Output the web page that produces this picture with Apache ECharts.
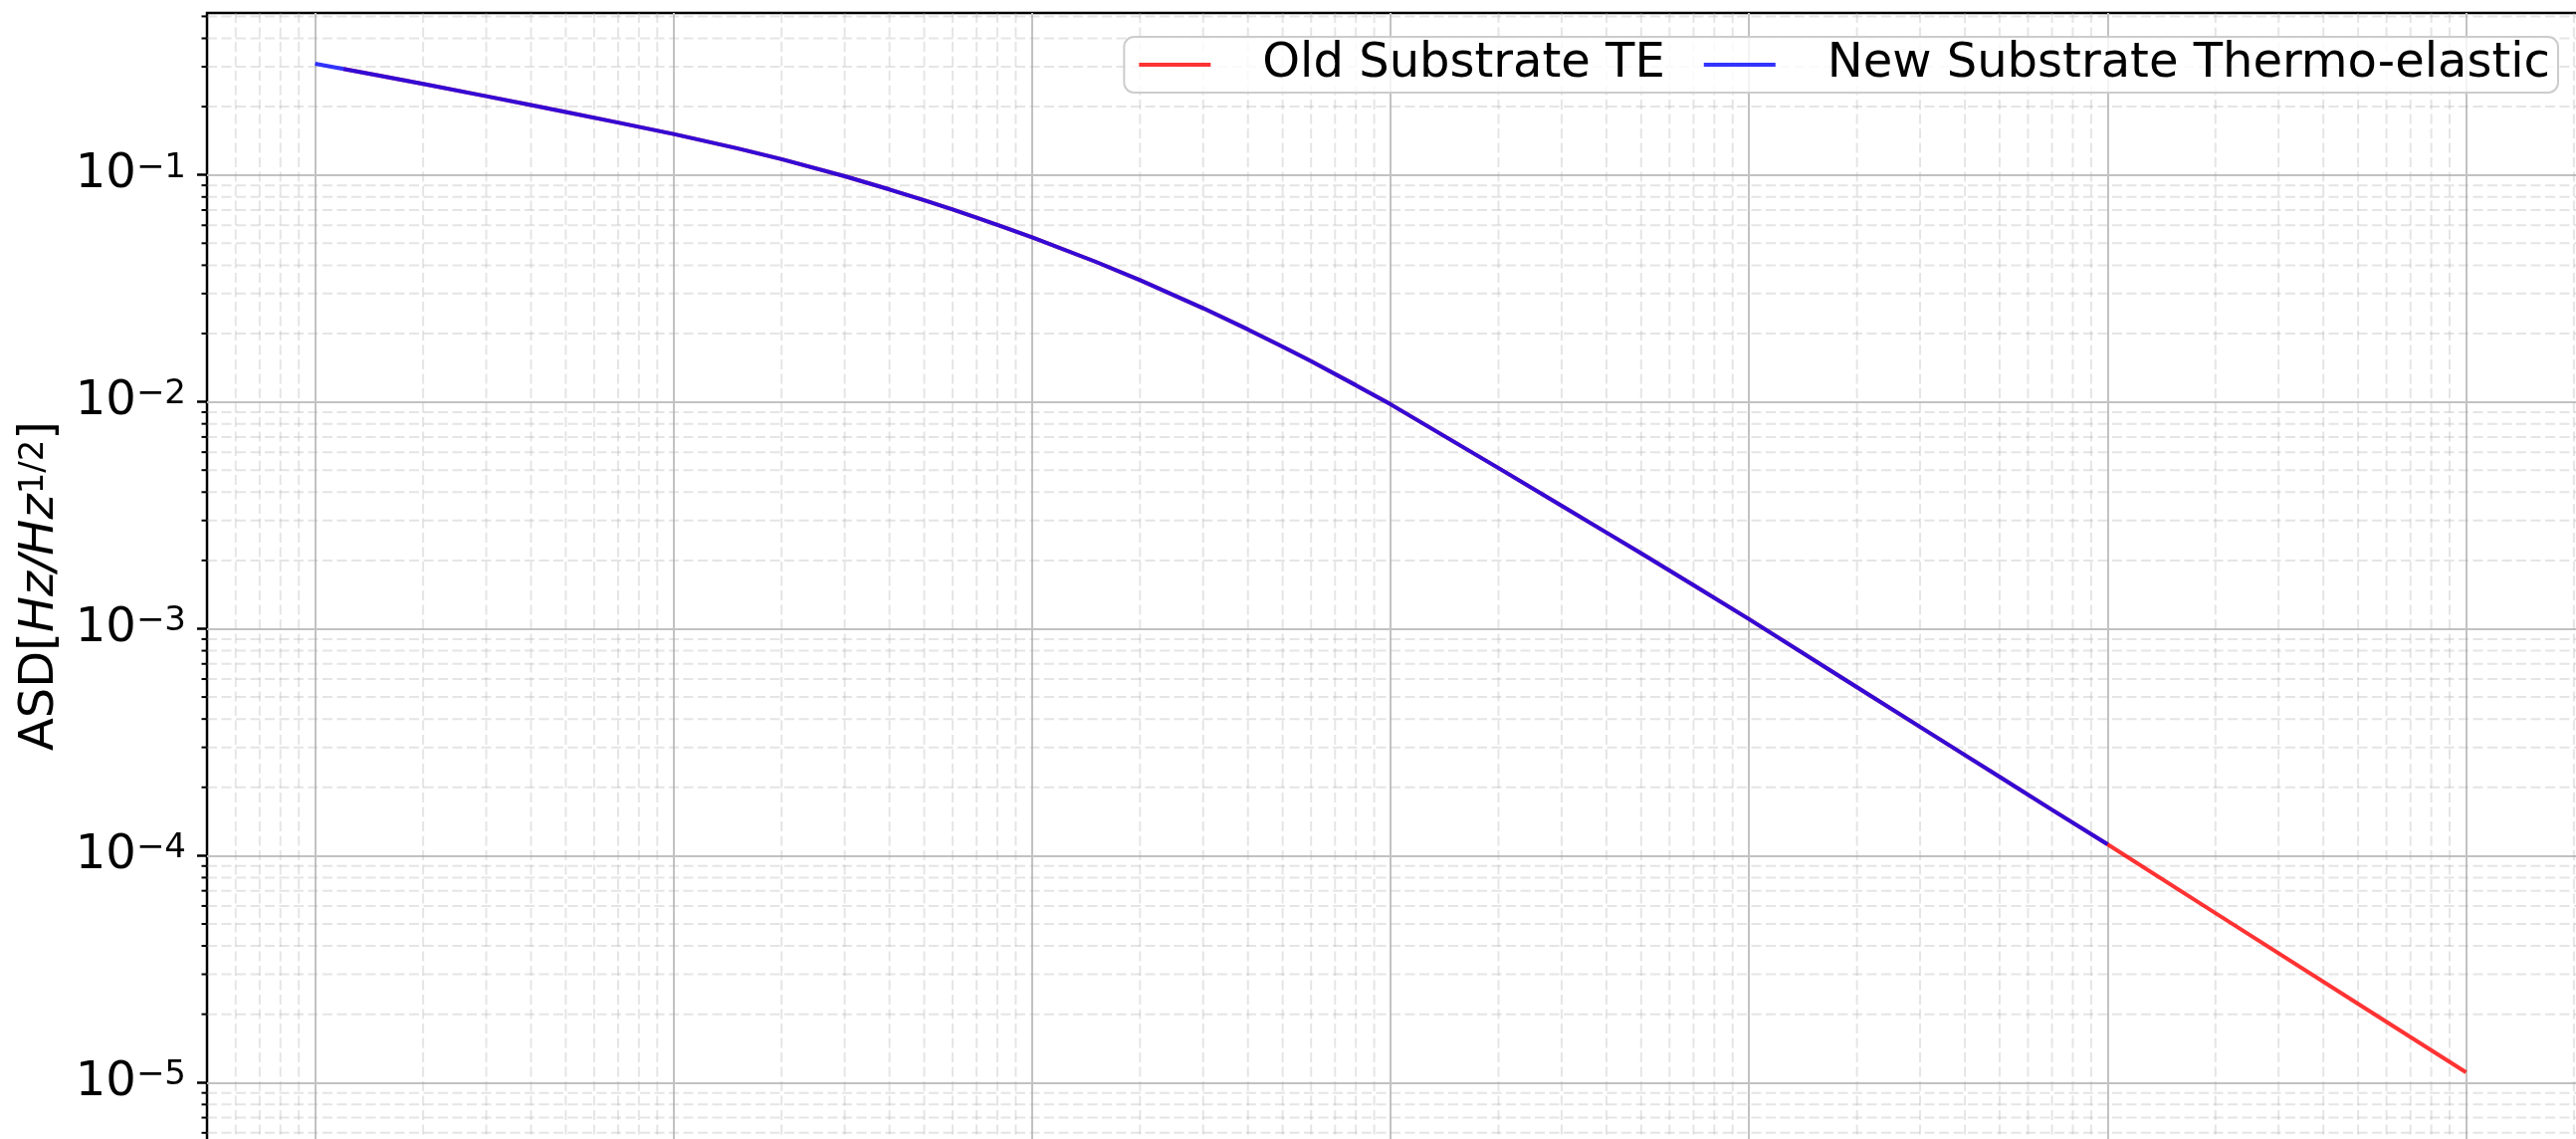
<!DOCTYPE html>
<html>
<head>
<meta charset="utf-8">
<title>Thermo-elastic ASD</title>
<script src="https://cdn.jsdelivr.net/npm/echarts@6.0.0/dist/echarts.min.js"></script>
<style>
  html, body { margin: 0; padding: 0; background: #fff; }
  #chart { width: 2588px; height: 1144px; }
</style>
</head>
<body>
<div id="chart"></div>
<script>
// values (log-log), frequency in Hz
const freqNew = [1, 1.5, 2, 3, 4, 5, 7, 10, 15, 20, 30, 40, 50, 60, 70, 80, 100, 150, 200, 300, 400, 500, 600, 800,
    1000, 2000, 3000, 4000, 5000, 7000, 10000, 20000, 30000, 40000, 50000, 70000, 100000];
const asdNew = [0.3090, 0.2745, 0.2518, 0.2223, 0.2032, 0.1894, 0.1701, 0.1514, 0.1312, 0.1173,
    0.09867, 0.08630, 0.07730, 0.07041, 0.06483, 0.06028, 0.05309, 0.04150, 0.03437, 0.02586,
    0.02084, 0.01749, 0.01510, 0.01184, 0.00975, 0.005105, 0.003483, 0.002655, 0.002148, 0.001556,
    0.001102, 5.521e-4, 3.690e-4, 2.773e-4, 2.223e-4, 1.592e-4, 1.122e-4];

const freqOld = [1.2, 1.5, 2, 3, 4, 5, 7, 10, 15, 20, 30, 40, 50, 60, 70, 80, 100, 150, 200, 300, 400, 500, 600, 800,
    1000, 2000, 3000, 4000, 5000, 7000, 10000, 20000, 30000, 40000, 50000, 70000, 100000, 200000, 500000, 1000000];
const asdOld = [0.2930, 0.2745, 0.2518, 0.2223, 0.2032, 0.1894, 0.1701, 0.1514, 0.1312, 0.1173,
    0.09867, 0.08630, 0.07730, 0.07041, 0.06483, 0.06028, 0.05309, 0.04150, 0.03437, 0.02586,
    0.02084, 0.01749, 0.01510, 0.01184, 0.00975, 0.005105, 0.003483, 0.002655, 0.002148, 0.001556,
    0.001102, 5.521e-4, 3.690e-4, 2.773e-4, 2.223e-4, 1.592e-4, 1.122e-4, 5.58e-5, 2.223e-5, 1.109e-5];

const seriesNames = ['Old Substrate TE', 'New Substrate Thermo-elastic'];

// axis limits (the bottom of the figure is cut off)
const xMin = 0.4992, xMax = 2.053e6;
const yMin = 4.605e-6, yMax = 0.5176;

// minor grid: 2..9 times each decade
const minorSteps = [2, 3, 4, 5, 6, 7, 8, 9];
const xDecades = [-1, 0, 1, 2, 3, 4, 5, 6];
const yDecades = [-6, -5, -4, -3, -2, -1];

const font = 'DejaVu Sans';
const red = 'rgba(255,0,0,0.8)';
const blue = 'rgba(0,0,255,0.8)';
const majorGrid = '#c2c2c2';
const minorGrid = 'rgba(170,170,170,0.3)';

function minorValues(decades, lo, hi) {
    const out = [];
    decades.forEach(k => {
        minorSteps.forEach(m => {
            const v = m * Math.pow(10, k);
            if (v > lo * 1.01 && v < hi) out.push(v);
        });
    });
    return out;
}
const xMinor = minorValues(xDecades, xMin, xMax);
const yMinor = minorValues(yDecades, yMin, yMax);

function isDecade(v) {
    const e = Math.log10(v);
    return Math.abs(e - Math.round(e)) < 1e-6;
}

const chart = echarts.init(document.getElementById('chart'), null, { renderer: 'canvas' });

const option = {
    animation: false,
    backgroundColor: '#fff',
    grid: {
        left: 208, top: 13, right: -2, bottom: -20,
        show: true, borderColor: '#000', borderWidth: 2.5,
        containLabel: false, outerBoundsMode: 'none'
    },
    legend: {
        data: seriesNames,
        right: 18, top: 37,
        icon: 'rect', itemWidth: 72, itemHeight: 4, itemGap: 39,
        padding: [4, 8, 4, 15],
        backgroundColor: 'rgba(255,255,255,0.8)',
        borderColor: '#cccccc', borderWidth: 2, borderRadius: 10,
        selectedMode: false,
        textStyle: { fontFamily: font, fontSize: 48, color: '#000', lineHeight: 48, padding: [0, 0, 0, 47] }
    },
    xAxis: {
        type: 'log', logBase: 10, min: xMin, max: xMax,
        axisLine: { show: false },
        axisTick: { show: false },
        axisLabel: { show: false },
        splitLine: { show: true, showMinLine: false, showMaxLine: false, lineStyle: { color: majorGrid, width: 2 } }
    },
    yAxis: {
        type: 'log', logBase: 10, min: yMin, max: yMax,
        name: '{n|ASD[}{i|Hz/Hz}{s|1/2}{n|]}',
        nameLocation: 'middle', nameRotate: 90, nameGap: 118,
        nameTextStyle: {
            color: '#000',
            rich: {
                n: { fontFamily: font, fontSize: 48, lineHeight: 48, color: '#000' },
                i: { fontFamily: font, fontSize: 48, lineHeight: 48, fontStyle: 'italic', color: '#000' },
                s: { fontFamily: font, fontSize: 34, lineHeight: 22, verticalAlign: 'top', color: '#000' }
            }
        },
        axisLine: { show: false },
        axisTick: { show: true, inside: false, length: 10, lineStyle: { color: '#000', width: 2.5 } },
        axisLabel: {
            margin: 21,
            showMinLabel: false, showMaxLabel: false,
            formatter: v => isDecade(v) ? '{b|10}{s|\u2212' + (-Math.round(Math.log10(v))) + '}' : '',
            rich: {
                b: { fontFamily: font, fontSize: 48, lineHeight: 48, color: '#000' },
                s: { fontFamily: font, fontSize: 34, lineHeight: 22, verticalAlign: 'top', color: '#000' }
            }
        },
        splitLine: { show: true, showMinLine: false, showMaxLine: false, lineStyle: { color: majorGrid, width: 2 } }
    },
    series: [
        {
            // minor horizontal grid + minor ticks on the left spine
            type: 'custom', silent: true, clip: false, z: 1,
            data: yMinor.map(v => [1, v]),
            encode: { x: 0, y: 1 },
            renderItem: (params, api) => {
                const cs = params.coordSys;
                const y = api.coord([1, api.value(1)])[1];
                return {
                    type: 'group',
                    children: [
                        { type: 'line', shape: { x1: cs.x, y1: y, x2: cs.x + cs.width, y2: y },
                          style: { stroke: minorGrid, lineWidth: 2, lineDash: [10, 4.5] } },
                        { type: 'line', shape: { x1: cs.x - 5.5, y1: y, x2: cs.x, y2: y },
                          style: { stroke: '#000', lineWidth: 2 } }
                    ]
                };
            }
        },
        {
            // minor vertical grid
            type: 'custom', silent: true, clip: false, z: 1,
            data: xMinor.map(v => [v, 0.01]),
            encode: { x: 0, y: 1 },
            renderItem: (params, api) => {
                const cs = params.coordSys;
                const x = api.coord([api.value(0), 0.01])[0];
                return {
                    type: 'line', shape: { x1: x, y1: cs.y, x2: x, y2: cs.y + cs.height },
                    style: { stroke: minorGrid, lineWidth: 2, lineDash: [10, 4.5] }
                };
            }
        },
        {
            name: seriesNames[0], type: 'line', z: 3,
            data: freqOld.map((f, i) => [f, asdOld[i]]),
            symbol: 'none', showSymbol: false, silent: true,
            lineStyle: { color: red, width: 4 },
            itemStyle: { color: red }
        },
        {
            name: seriesNames[1], type: 'line', z: 4,
            data: freqNew.map((f, i) => [f, asdNew[i]]),
            symbol: 'none', showSymbol: false, silent: true,
            lineStyle: { color: blue, width: 4 },
            itemStyle: { color: blue }
        }
    ]
};

chart.setOption(option);
</script>
</body>
</html>
